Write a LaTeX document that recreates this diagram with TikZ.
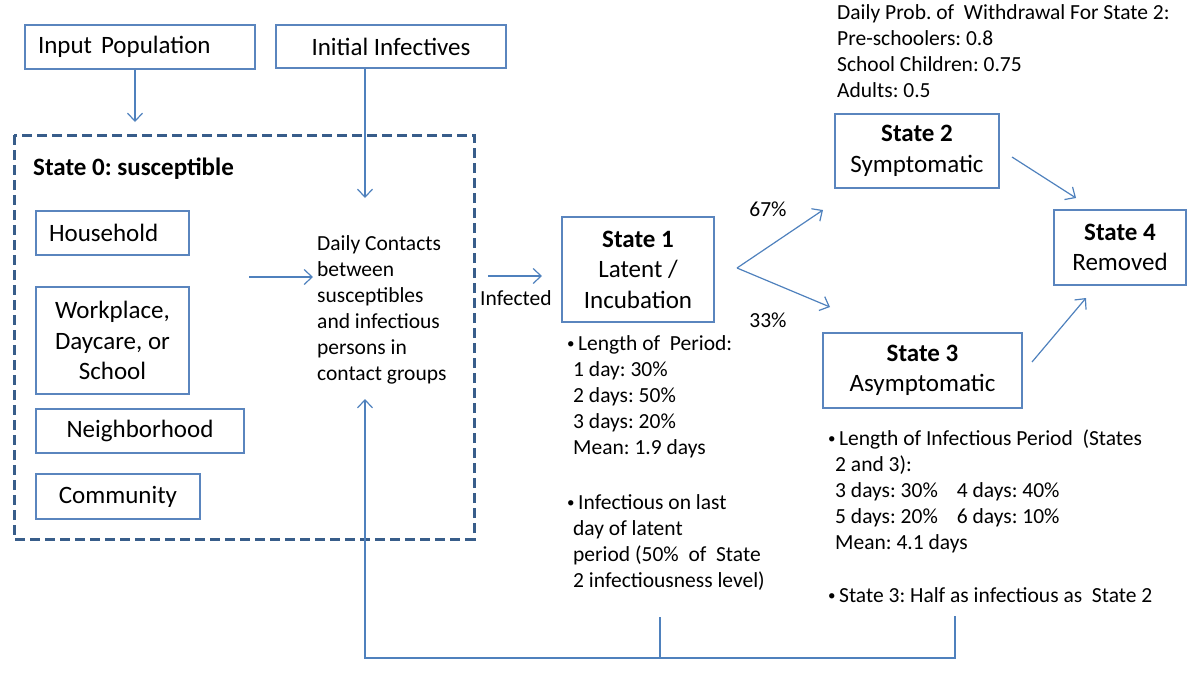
\documentclass[tikz,border=0pt]{standalone}
\usepackage{fontspec}
\setmainfont{Carlito}
\usetikzlibrary{arrows.meta}
\definecolor{boxblue}{HTML}{5A85BE}
\definecolor{dashblue}{HTML}{385D8A}
\definecolor{arrowblue}{HTML}{4F81BD}
\frenchspacing
\newcommand{\smbullet}{{\fontsize{15}{15}\selectfont\raisebox{1.5pt}{\textbullet}}\hspace{3.5pt}}
\begin{document}
\begin{tikzpicture}[x=1pt,y=-1pt,
  box/.style={draw=boxblue, line width=1.3pt, inner sep=0pt, align=center,
    font=\fontsize{25}{30.5}\selectfont},
  dashbox/.style={draw=dashblue, line width=3pt, dash pattern=on 10pt off 5pt},
  arr/.style={draw=arrowblue, line width=1.2pt, -{Straight Barb[length=8pt,width=15pt]}},
  conn/.style={draw=arrowblue, line width=1.2pt},
  txt/.style={inner sep=0pt, align=left, anchor=base west,
    font=\fontsize{21.5}{26}\selectfont},
]
\useasboundingbox (0,0) rectangle (1200,681);
% top boxes
\node[box, minimum width=230, minimum height=44, text width=204, align=left] (inpop) at (140,47) {Input\hspace{9pt}Population};
\node[box, minimum width=230, minimum height=43] (initinf) at (391,46.5) {Initial Infectives};
% state 0
\draw[dashbox] (14,135) rectangle (474,539);
\node[inner sep=0pt, anchor=base west, font=\fontsize{25}{30}\selectfont\bfseries] (s0label) at (33,175) {State 0: susceptible};
\node[box, minimum width=153, minimum height=44, text width=127, align=left] (house) at (112.5,233) {Household};
\node[box, minimum width=153, minimum height=107] (work) at (112.5,340.5) {Workplace,\\Daycare, or\\School};
\node[box, minimum width=208, minimum height=44] (neigh) at (140,431) {Neighborhood};
\node[box, minimum width=164, minimum height=45] (comm) at (118,496.5) {Community};
% multi-line text nodes: base anchor = baseline of last line
\node[txt] (contacts) at (317,380) {Daily Contacts\\between\\susceptibles\\and infectious\\persons in\\contact groups};
% coordinates
\coordinate (inpopend) at (135,122);
\coordinate (contop) at (365,198);
\coordinate (conbot) at (365,399);
\coordinate (grpout) at (249,277);
\coordinate (conin) at (313,277);
\coordinate (infstart) at (488,276);
\coordinate (infend) at (542,276);
\coordinate (apex) at (737,268);
\coordinate (up) at (823,210);
\coordinate (down) at (830,307);
\coordinate (s2out) at (1012,157);
\coordinate (s4in2) at (1076,198);
\coordinate (s3out) at (1032,362);
\coordinate (s4in3) at (1086,298);
\coordinate (fbright) at (955,616);
\coordinate (fbmid) at (660,617);
\coordinate (fbcorner) at (955,658);
\coordinate (fbmidbot) at (660,658);
\coordinate (fbleft) at (365,658);
% states
\node[box, minimum width=152, minimum height=105] (s1) at (638,269.5) {\textbf{State 1}\\Latent /\\Incubation};
\node[box, minimum width=164, minimum height=74] (s2) at (917,151) {\textbf{State 2}\\Symptomatic};
\node[box, minimum width=199, minimum height=75] (s3) at (922.5,370.5) {\textbf{State 3}\\Asymptomatic};
\node[box, minimum width=132, minimum height=75] (s4) at (1120,247.5) {\textbf{State 4}\\Removed};
% labels
\node[txt] (infected) at (480,305) {Infected};
\node[txt, anchor=center] (p67) at (768,209) {67\%};
\node[txt, anchor=center] (p33) at (768,320) {33\%};
\node[txt] (withdraw) at (837,97) {Daily Prob. of\ \ Withdrawal For State 2:\\Pre-schoolers: 0.8\\School Children: 0.75\\Adults: 0.5};
\node[txt] (s1info) at (567,454) {\smbullet Length of\ \ Period:\\\hspace*{6pt}1 day: 30\%\\\hspace*{6pt}2 days: 50\%\\\hspace*{6pt}3 days: 20\%\\\hspace*{6pt}Mean: 1.9 days};
\node[txt] (s1inf) at (567,587) {\smbullet Infectious on last\\\hspace*{6pt}day of latent\\\hspace*{6pt}period (50\%\ \ of\ \ State\\\hspace*{6pt}2 infectiousness level)};
\node[txt] (s3info) at (828,549) {\smbullet Length of Infectious Period\ \ (States\\\hspace*{7pt}2 and 3):\\\hspace*{7pt}3 days: 30\%\hspace{19pt}4 days: 40\%\\\hspace*{7pt}5 days: 20\%\hspace{19pt}6 days: 10\%\\\hspace*{7pt}Mean: 4.1 days};
\node[txt] (s3half) at (828,602) {\smbullet State 3: Half as infectious as\ \ State 2};
% connectors
\draw[arr] (inpop.south -| inpopend) -- (inpopend);
\draw[arr] (initinf.south -| contop) -- (contop);
\draw[arr] (grpout) -- (conin);
\draw[arr] (infstart) -- (infend);
\draw[arr] (apex) -- (up);
\draw[arr] (apex) -- (down);
\draw[arr] (s2out) -- (s4in2);
\draw[arr] (s3out) -- (s4in3);
\draw[conn] (fbmid) -- (fbmidbot);
\draw[arr] (fbright) -- (fbcorner) -- (fbleft) -- (conbot);
\end{tikzpicture}
\end{document}
